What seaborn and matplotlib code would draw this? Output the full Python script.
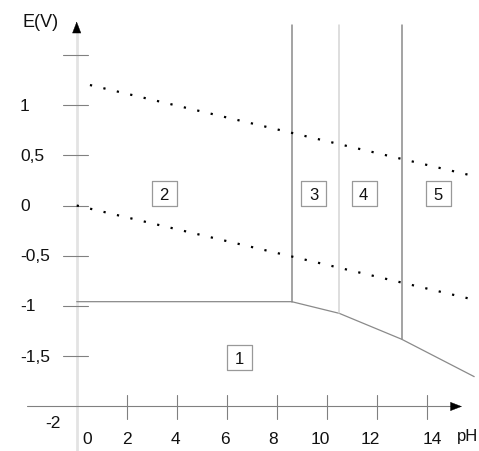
import matplotlib
matplotlib.use("Agg")
import matplotlib.pyplot as plt
import seaborn as sns
import numpy as np

sns.set_theme(style="white")
plt.rcParams["font.family"] = ["Liberation Sans", "DejaVu Sans"]

# ---- data -------------------------------------------------------------
# water stability lines (endpoints)
o2_ph = [0.53, 15.65]
o2_e = [1.199, 0.307]
h2_ph = [0.0, 15.73]
h2_e = [0.0, -0.928]

# lower boundary (region 1)
low_ph = [0.0, 8.6, 10.5, 13.0, 15.9]
low_e = [-0.957, -0.957, -1.073, -1.331, -1.703]

# vertical boundaries
vert_ph = [8.6, 10.5, 13.0]
vert_top = [1.796, 1.796, 1.796]
vert_bottom = [-0.957, -1.073, -1.331]

# region labels
region_names = ["1", "2", "3", "4", "5"]
region_ph = [6.49, 3.5, 9.47, 11.48, 14.47]
region_e = [-1.507, 0.125, 0.125, 0.125, 0.125]

# ticks
x_ticks = [2, 4, 6, 8, 10, 12, 14]
x_labels = ["0", "2", "4", "6", "8", "10", "12", "14"]
x_label_pos = [0.41, 2.01, 3.93, 5.93, 7.85, 9.73, 11.73, 14.21]
y_ticks = [1.5, 1.0, 0.5, 0.0, -0.5, -1.0, -1.5]
y_labels = ["1", "0,5", "0", "-0,5", "-1", "-1,5"]
y_label_vals = [1.0, 0.5, 0.0, -0.5, -1.0, -1.5]

# ---- figure -----------------------------------------------------------
fig = plt.figure(figsize=(4.79, 4.52), dpi=100)
ax = fig.add_axes([0, 0, 1, 1])
ax.set_xlim(-3.068, 16.092)
ax.set_ylim(-2.443, 2.055)
ax.set_axis_off()

axis_gray = "#808080"
line_gray = "#8a8a8a"

# axes lines
ax.plot([0, 0], [-2.443, 1.80], color="#e3e3e3", lw=2.0, zorder=1, solid_capstyle="butt")
ax.plot([-1.99, 15.1], [-2.0, -2.0], color=axis_gray, lw=0.8, zorder=2)
# arrow heads
ax.annotate("", xy=(0, 1.83), xytext=(0, 1.74),
            arrowprops=dict(arrowstyle="-|>,head_length=0.65,head_width=0.25",
                            color="black", lw=0.3, shrinkA=0, shrinkB=0), zorder=5)
ax.annotate("", xy=(15.41, -2.0), xytext=(15.05, -2.0),
            arrowprops=dict(arrowstyle="-|>,head_length=0.65,head_width=0.25",
                            color="black", lw=0.3, shrinkA=0, shrinkB=0), zorder=5)

# ticks
for t in y_ticks:
    ax.plot([-0.55, 0.45], [t, t], color=axis_gray, lw=0.8, zorder=2)
for t in x_ticks:
    ax.plot([t, t], [-1.886, -2.124], color=axis_gray, lw=0.8, zorder=2)

# tick labels
fs = 12.5
for lab, v in zip(y_labels, y_label_vals):
    ax.text(-2.27, v, lab, ha="left", va="center", fontsize=fs, color="#111111")
ax.text(-1.26, -2.16, "-2", ha="left", va="center", fontsize=fs, color="#111111")
for lab, p in zip(x_labels, x_label_pos):
    ax.text(p, -2.32, lab, ha="center", va="center", fontsize=fs, color="#111111")
ax.text(-1.43, 1.83, "E(V)", ha="center", va="center", fontsize=13, color="#111111")
ax.text(15.2, -2.29, "pH", ha="left", va="center", fontsize=12, color="#111111")

# boundaries
sns.lineplot(x=low_ph, y=low_e, ax=ax, color=line_gray, lw=0.9, sort=False,
             estimator=None, zorder=3)
vcolors = [line_gray, "#d4d4d4", line_gray]
for p, top, bot, c in zip(vert_ph, vert_top, vert_bottom, vcolors):
    sns.lineplot(x=[p, p], y=[top, bot], ax=ax, color=c, lw=1.1, sort=False,
                 estimator=None, zorder=3)

# water lines (dotted)
for xs, ys in [(o2_ph, o2_e), (h2_ph, h2_e)]:
    sns.lineplot(x=xs, y=ys, ax=ax, color="black", lw=1.6, sort=False,
                 estimator=None, zorder=4, linestyle=(0, (1, 5.2)),
                 dash_capstyle="butt")

# region label boxes
sns.scatterplot(x=region_ph, y=region_e, ax=ax, marker="s", s=18 ** 2,
                color="white", edgecolor="#999999", linewidth=0.9, zorder=6)
for name, p, e in zip(region_names, region_ph, region_e):
    ax.text(p, e, name, ha="center", va="center_baseline", fontsize=12,
            color="#111111", zorder=7)

fig.savefig("out.png", dpi=100)
